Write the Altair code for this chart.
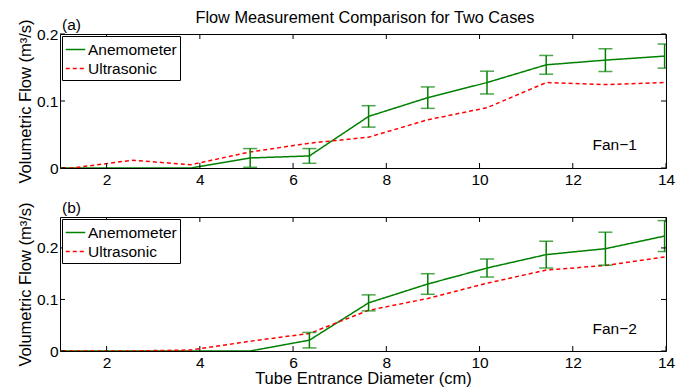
import altair as alt
import pandas as pd

# ---- data ----
x_cm = [0, 1.27, 2.54, 3.81, 5.08, 6.35, 7.62, 8.89, 10.16, 11.43, 12.70, 13.97]

fan1_anemometer = [0, 0, 0, 0, 0.015, 0.018, 0.077, 0.105, 0.1275, 0.154, 0.161, 0.167]
fan1_anem_err = [0, 0, 0, 0, 0.014, 0.011, 0.016, 0.016, 0.017, 0.014, 0.017, 0.018]
fan1_ultrasonic = [0, 0, 0.0115, 0.005, 0.024, 0.037, 0.046, 0.072, 0.090, 0.1275, 0.1245, 0.1275]

fan2_anemometer = [0, 0, 0, 0, 0, 0.021, 0.0934, 0.130, 0.161, 0.187, 0.1985, 0.223]
fan2_anem_err = [0, 0, 0, 0, 0, 0.015, 0.0155, 0.020, 0.0175, 0.026, 0.032, 0.030]
fan2_ultrasonic = [0, 0, 0, 0.002, 0.019, 0.034, 0.079, 0.102, 0.1315, 0.157, 0.166, 0.1824]

series_names = ["Anemometer", "Ultrasonic"]
series_colors = ["#008000", "#ff0000"]
x_ticks = [2, 4, 6, 8, 10, 12, 14]
y_ticks = [0, 0.1, 0.2]
x_domain = [1, 14]
y_max = [0.2, 0.26]
panel_labels = ["(a)", "(b)"]
fan_labels = ["Fan\u22121", "Fan\u22122"]
fan_label_x = [12.9, 12.9]
fan_label_y = [0.035, 0.043]

TITLE = "Flow Measurement Comparison for Two Cases"
Y_TITLE = "Volumetric Flow (m\u00b3/s)"
X_TITLE = "Tube Entrance Diameter (cm)"

W, H = 606, 134
FONT = "Liberation Sans"
TICK = 5


def panel(anem, err, ultra, ymax, plabel, flabel, fx, fy, show_xtitle, show_title):
    xscale = alt.Scale(domain=x_domain, nice=False, zero=False)
    yscale = alt.Scale(domain=[0, ymax], nice=False, zero=False)
    xaxis = alt.Axis(values=x_ticks, ticks=False, domain=False, grid=False,
                     labelPadding=4, labelFontSize=15.5, labelFont=FONT,
                     labelColor="black", titleFont=FONT, titleFontSize=16.5,
                     titleFontWeight="normal", titleColor="black", titlePadding=0,
                     labelFlush=False)
    yaxis = alt.Axis(values=y_ticks, format="~g", ticks=False, domain=False, grid=False,
                     labelPadding=2, labelFontSize=15.5, labelFont=FONT,
                     labelColor="black", titleFont=FONT, titleFontSize=16.5,
                     titleFontWeight="normal", titleColor="black", titlePadding=3,
                     labelFlush=False)
    xt = X_TITLE if show_xtitle else None

    def X(field):
        return alt.X(field, type="quantitative", scale=xscale, axis=xaxis, title=xt)

    def Y(field):
        return alt.Y(field, type="quantitative", scale=yscale, axis=yaxis, title=Y_TITLE)

    n = len(x_cm)
    long = pd.DataFrame({
        "x": x_cm + x_cm,
        "v": anem + ultra,
        "series": [series_names[0]] * n + [series_names[1]] * n,
    })
    legend = alt.Legend(title=None, orient="top-left", offset=2,
                        symbolType="stroke", symbolSize=380, symbolStrokeWidth=1.5,
                        labelFont=FONT, labelFontSize=15.5, labelColor="black",
                        labelOffset=2, padding=3, rowPadding=0,
                        strokeColor="black", fillColor="white", cornerRadius=0)
    lines = alt.Chart(long).mark_line(clip=True, strokeWidth=1.5).encode(
        x=X("x"), y=Y("v"),
        color=alt.Color("series:N", scale=alt.Scale(domain=series_names, range=series_colors),
                        legend=legend),
        strokeDash=alt.StrokeDash("series:N",
                                  scale=alt.Scale(domain=series_names, range=[[1, 0], [4, 3]]),
                                  legend=legend),
    )

    eb = pd.DataFrame({"x": x_cm, "v": anem, "e": err})
    eb = eb[eb["e"] > 0].copy()
    eb["lo"] = eb["v"] - eb["e"]
    eb["hi"] = eb["v"] + eb["e"]
    bars = alt.Chart(eb).mark_rule(clip=True, color=series_colors[0], strokeWidth=1.5).encode(
        x=X("x"), y=Y("lo"), y2="hi:Q")
    cap_lo = alt.Chart(eb).mark_tick(clip=True, orient="horizontal", size=14, thickness=1.5,
                                     color=series_colors[0]).encode(x=X("x"), y=Y("lo"))
    cap_hi = alt.Chart(eb).mark_tick(clip=True, orient="horizontal", size=14, thickness=1.5,
                                     color=series_colors[0]).encode(x=X("x"), y=Y("hi"))

    # inward tick marks (MATLAB style box)
    xt_df = pd.DataFrame({"x": x_ticks})
    yt_df = pd.DataFrame({"v": y_ticks})
    tb = alt.Chart(xt_df).mark_rule(color="black", strokeWidth=1).encode(
        x=X("x"), y=alt.value(H), y2=alt.value(H - TICK))
    tt = alt.Chart(xt_df).mark_rule(color="black", strokeWidth=1).encode(
        x=X("x"), y=alt.value(0), y2=alt.value(TICK))
    tl = alt.Chart(yt_df).mark_rule(color="black", strokeWidth=1).encode(
        y=Y("v"), x=alt.value(0), x2=alt.value(TICK))
    tr = alt.Chart(yt_df).mark_rule(color="black", strokeWidth=1).encode(
        y=Y("v"), x=alt.value(W), x2=alt.value(W - TICK))

    lab = alt.Chart(pd.DataFrame({"t": [plabel]})).mark_text(
        align="left", baseline="alphabetic", font=FONT, fontSize=15.5, color="black"
    ).encode(text="t:N", x=alt.value(2), y=alt.value(-4))

    fan = alt.Chart(pd.DataFrame({"x": [fx], "v": [fy], "t": [flabel]})).mark_text(
        align="center", baseline="middle", font=FONT, fontSize=15.5, color="black"
    ).encode(text="t:N", x=X("x"), y=Y("v"))

    layers = [lines, bars, cap_lo, cap_hi, tb, tt, tl, tr, lab, fan]
    if show_title:
        ttl = alt.Chart(pd.DataFrame({"t": [TITLE]})).mark_text(
            align="center", baseline="alphabetic", font=FONT, fontSize=16.3, color="black"
        ).encode(text="t:N", x=alt.value(W / 2 + 2), y=alt.value(-11))
        layers.append(ttl)
    return alt.layer(*layers).properties(width=W, height=H)


top = panel(fan1_anemometer, fan1_anem_err, fan1_ultrasonic, y_max[0], panel_labels[0],
            fan_labels[0], fan_label_x[0], fan_label_y[0], False, True)
bottom = panel(fan2_anemometer, fan2_anem_err, fan2_ultrasonic, y_max[1], panel_labels[1],
               fan_labels[1], fan_label_x[1], fan_label_y[1], True, False)

chart = alt.vconcat(top, bottom, spacing=12).resolve_scale(
    y="independent", color="independent", strokeDash="independent"
).resolve_legend(color="independent", strokeDash="independent").configure_view(
    stroke="black", strokeWidth=1
).properties(
    padding={"left": 8, "top": 1, "right": 0, "bottom": 0},
    background="white",
)

chart.save("out.html", embed_options={"renderer": "svg", "actions": False})
